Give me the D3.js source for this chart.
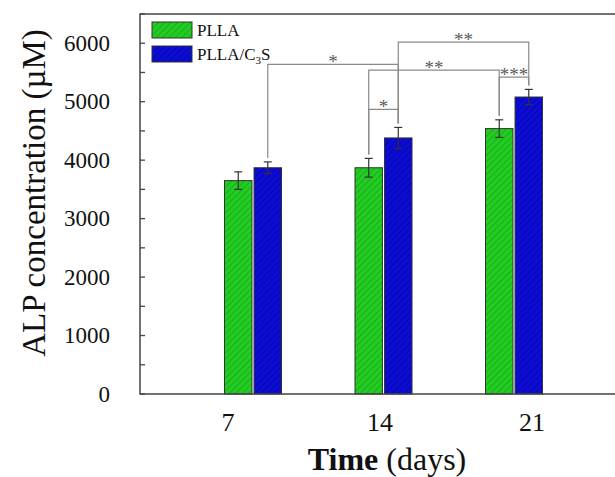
<!DOCTYPE html>
<html>
<head>
<meta charset="utf-8">
<script src="https://cdn.jsdelivr.net/npm/d3@7"></script>
<style>
  body { margin: 0; background: #fff; }
  svg { display: block; font-family: "Liberation Serif", "Times New Roman", serif; }
</style>
</head>
<body>
<div id="chart"></div>
<script>
// ---------------------------------------------------------------------------//
// Data
// ---------------------------------------------------------------------------//
const days = [7, 14, 21];
const series = ["PLLA", "PLLA/C3S"];
const pllaValues = [3650, 3870, 4540];
const pllaErrors = [150, 160, 150];
const c3sValues = [3870, 4380, 5080];
const c3sErrors = [100, 180, 130];
const yTicks = [0, 1000, 2000, 3000, 4000, 5000, 6000];
const yMinorTicks = [500, 1500, 2500, 3500, 4500, 5500, 6500];

// significance brackets: [day, series] to [day, series], bracket level, label
const brackets = [
  { a: [7, "PLLA/C3S"], b: [14, "PLLA/C3S"], level: 5640, label: "*" },
  { a: [14, "PLLA"], b: [14, "PLLA/C3S"], level: 4870, label: "*" },
  { a: [14, "PLLA"], b: [21, "PLLA"], level: 5540, label: "**" },
  { a: [21, "PLLA"], b: [21, "PLLA/C3S"], level: 5420, label: "***" },
  { a: [14, "PLLA/C3S"], b: [21, "PLLA/C3S"], level: 6020, label: "**" },
];

const colors = {
  "PLLA": { fill: "#22cc22", hatch: "#17a017" },
  "PLLA/C3S": { fill: "#0c0cd2", hatch: "#0303a8" },
};

// ---------------------------------------------------------------------------//
// Layout
// ---------------------------------------------------------------------------//
const width = 615;
const height = 477;
const plot = { left: 140, top: 14, bottom: 394 };

const rows = days.map((d, i) => ({
  day: d,
  values: [
    { key: "PLLA", value: pllaValues[i], err: pllaErrors[i] },
    { key: "PLLA/C3S", value: c3sValues[i], err: c3sErrors[i] },
  ],
}));

const svg = d3.select("#chart")
  .append("svg")
  .attr("width", width)
  .attr("height", height);

const y = d3.scaleLinear().domain([0, 6500]).range([plot.bottom, plot.top]);
const x = d3.scalePoint().domain(days).range([253, 514]);
const xSub = d3.scaleBand().domain(series).range([-28.5, 28.5]).paddingInner(0.07);
const xLabel = d3.scalePoint().domain(days).range([228, 532]);

function barCenter(day, key) {
  return x(day) + xSub(key) + xSub.bandwidth() / 2;
}
function lookup(day, key) {
  const row = rows.find((r) => r.day === day);
  return row.values.find((v) => v.key === key);
}

// hatch patterns
const defs = svg.append("defs");
series.forEach((s, i) => {
  const p = defs.append("pattern")
    .attr("id", `hatch${i}`)
    .attr("patternUnits", "userSpaceOnUse")
    .attr("width", 4.5)
    .attr("height", 4.5)
    .attr("patternTransform", "rotate(45)");
  p.append("rect").attr("width", 4.5).attr("height", 4.5).attr("fill", colors[s].fill);
  p.append("line")
    .attr("x1", 0).attr("y1", 0).attr("x2", 0).attr("y2", 4.5)
    .attr("stroke", colors[s].hatch)
    .attr("stroke-width", 1.4);
});

// ---------------------------------------------------------------------------//
// Bars + error bars
// ---------------------------------------------------------------------------//
const groups = svg.selectAll("g.day")
  .data(rows)
  .join("g")
  .attr("class", "day")
  .attr("transform", (d) => `translate(${x(d.day)},0)`);

groups.selectAll("rect")
  .data((d) => d.values)
  .join("rect")
  .attr("x", (d) => xSub(d.key))
  .attr("y", (d) => y(d.value))
  .attr("width", xSub.bandwidth())
  .attr("height", (d) => y(0) - y(d.value))
  .attr("fill", (d) => `url(#hatch${series.indexOf(d.key)})`)
  .attr("stroke", "#333")
  .attr("stroke-width", 1);

const err = groups.selectAll("g.err")
  .data((d) => d.values)
  .join("g")
  .attr("class", "err")
  .attr("stroke", "#333")
  .attr("stroke-width", 1.2);

err.append("line")
  .attr("x1", (d) => xSub(d.key) + xSub.bandwidth() / 2)
  .attr("x2", (d) => xSub(d.key) + xSub.bandwidth() / 2)
  .attr("y1", (d) => y(d.value + d.err))
  .attr("y2", (d) => y(d.value - d.err));
["+", "-"].forEach((sgn) => {
  err.append("line")
    .attr("x1", (d) => xSub(d.key) + xSub.bandwidth() / 2 - 4)
    .attr("x2", (d) => xSub(d.key) + xSub.bandwidth() / 2 + 4)
    .attr("y1", (d) => y(sgn === "+" ? d.value + d.err : d.value - d.err))
    .attr("y2", (d) => y(sgn === "+" ? d.value + d.err : d.value - d.err));
});

// ---------------------------------------------------------------------------//
// Significance brackets
// ---------------------------------------------------------------------------//
const br = svg.append("g").attr("stroke", "#8a8a8a").attr("stroke-width", 1.2).attr("fill", "none");
brackets.forEach((b) => {
  const xa = barCenter(b.a[0], b.a[1]);
  const xb = barCenter(b.b[0], b.b[1]);
  const va = lookup(b.a[0], b.a[1]);
  const vb = lookup(b.b[0], b.b[1]);
  const yl = y(b.level);
  br.append("path")
    .attr("d", `M${xa},${y(va.value + va.err) - 4}V${yl}H${xb}V${y(vb.value + vb.err) - 4}`);
  svg.append("text")
    .attr("x", (xa + xb) / 2)
    .attr("y", yl + 4)
    .attr("text-anchor", "middle")
    .attr("font-size", 19)
    .attr("fill", "#5a5a5a")
    .text(b.label);
});

// ---------------------------------------------------------------------------//
// Axes / frame
// ---------------------------------------------------------------------------//
const frame = svg.append("g").attr("stroke", "#444").attr("stroke-width", 1.5).attr("fill", "none");
frame.append("path").attr("d", `M${width},${plot.top}H${plot.left}V${plot.bottom}H${width}`);

const yAxis = svg.append("g").attr("transform", `translate(${plot.left},0)`);
yAxis.selectAll("line.tick")
  .data(yMinorTicks.concat(yTicks))
  .join("line")
  .attr("class", "tick")
  .attr("x1", 0).attr("x2", 5)
  .attr("y1", (d) => y(d)).attr("y2", (d) => y(d))
  .attr("stroke", "#444").attr("stroke-width", 1.3);

yAxis.selectAll("text")
  .data(yTicks)
  .join("text")
  .attr("x", -30)
  .attr("y", (d) => y(d))
  .attr("dy", "0.33em")
  .attr("text-anchor", "end")
  .attr("font-size", 23)
  .attr("fill", "#111")
  .text((d) => d);

svg.append("g")
  .selectAll("text")
  .data(days)
  .join("text")
  .attr("x", (d) => xLabel(d))
  .attr("y", 431)
  .attr("text-anchor", "middle")
  .attr("font-size", 26)
  .attr("fill", "#111")
  .text((d) => d);

const xTitle = svg.append("text")
  .attr("x", 387)
  .attr("y", 470)
  .attr("text-anchor", "middle")
  .attr("font-size", 32)
  .attr("fill", "#111");
xTitle.append("tspan").attr("font-weight", "bold").text("Time");
xTitle.append("tspan").text(" (days)");

svg.append("text")
  .attr("transform", "translate(45,193) rotate(-90)")
  .attr("text-anchor", "middle")
  .attr("font-size", 33)
  .attr("fill", "#111")
  .text("ALP concentration (\u00b5M)");

// ---------------------------------------------------------------------------//
// Legend
// ---------------------------------------------------------------------------//
const legend = svg.append("g").attr("transform", "translate(152,22)");
series.forEach((s, i) => {
  const g = legend.append("g").attr("transform", `translate(0,${i * 24})`);
  g.append("rect")
    .attr("width", 40).attr("height", 16)
    .attr("fill", `url(#hatch${i})`)
    .attr("stroke", "#333").attr("stroke-width", 1);
  const t = g.append("text")
    .attr("x", 45).attr("y", 14)
    .attr("font-size", 17)
    .attr("fill", "#111");
  if (s === "PLLA/C3S") {
    t.append("tspan").text("PLLA/C");
    t.append("tspan").attr("font-size", 11).attr("dy", 4).text("3");
    t.append("tspan").attr("dy", -4).text("S");
  } else {
    t.text(s);
  }
});
</script>
</body>
</html>
